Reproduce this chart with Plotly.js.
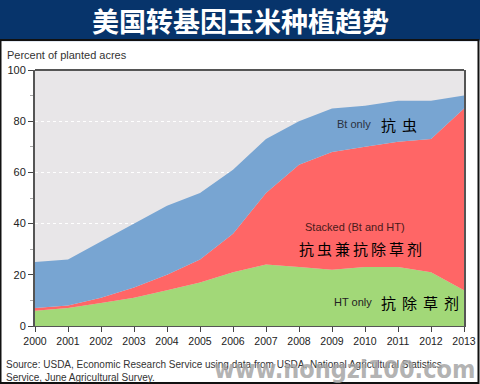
<!DOCTYPE html>
<html><head><meta charset="utf-8">
<script src="https://cdn.plot.ly/plotly-3.0.1.min.js"></script>
<style>html,body{margin:0;padding:0;background:#fff;}#chart{width:480px;height:384px;}</style>
</head><body><div id="chart"></div>
<script>
var years = [2000,2001,2002,2003,2004,2005,2006,2007,2008,2009,2010,2011,2012,2013];
var htOnly  = [6,7,9,11,14,17,21,24,23,22,23,23,21,14];
var stacked = [1,1,2,4,6,9,15,28,40,46,47,49,52,71];
var btOnly  = [18,18,22,25,27,26,25,21,17,17,16,16,15,5];
var yTicks = [0,20,40,60,80,100];
var title = "美国转基因玉米种植趋势";
var yTitle = "Percent of planted acres";
var source = "Source: USDA, Economic Research Service using data from USDA, National Agricultural Statistics<br>Service, June Agricultural Survey.";

var W = 480, H = 384, L = 35, R = 16, T = 70, B = 58;
var pw = W - L - R, ph = H - T - B;
function px(x){ return (x - L) / pw; }
function py(y){ return (H - B - y) / ph; }

function area(name, vals, color){
  return {type:'scatter', mode:'lines', x:years, y:vals, name:name, stackgroup:'one',
    line:{width:0, color:color}, fillcolor:color, hoverinfo:'skip'};
}
var data = [
  area('HT only', htOnly, '#a2d878'),
  area('Stacked (Bt and HT)', stacked, '#ff6666'),
  area('Bt only', btOnly, '#78a5d2')
];

var cjk = 'Noto Sans CJK SC, sans-serif';
var sep = '\u2009';
var layout = {
  width:W, height:H, margin:{l:L, r:R, t:T, b:B},
  paper_bgcolor:'#ffffff', plot_bgcolor:'#e8e6e8',
  showlegend:false,
  font:{family:'Liberation Sans, Arial, sans-serif', size:11, color:'#333'},
  xaxis:{range:[2000,2013], tickvals:years, ticks:'outside', ticklen:5, tickcolor:'#444',
    showgrid:false, zeroline:false, showline:true, linecolor:'#555', linewidth:1,
    tickfont:{size:10.5, color:'#222'}},
  yaxis:{range:[0,100], tickvals:yTicks, ticks:'outside', ticklen:5, tickcolor:'#444',
    showline:true, mirror:true, linecolor:'#555', linewidth:2, zeroline:false,
    gridcolor:'#ffffff', griddash:'dot', gridwidth:1,
    minor:{dtick:10, ticks:'outside', ticklen:3, tickcolor:'#aaa', showgrid:false},
    tickfont:{size:11, color:'#222'}},
  shapes:[
    {type:'rect', xref:'paper', yref:'paper', x0:px(0), x1:px(480), y0:py(40), y1:py(-2),
      fillcolor:'#07346b', line:{width:0}, layer:'above'},
    {type:'line', xref:'paper', yref:'paper', x0:px(0), x1:px(480), y0:py(40.5), y1:py(40.5),
      line:{color:'#8fa9cc', width:1.5}},
    {type:'line', xref:'paper', yref:'paper', x0:0, x1:1, y0:1, y1:1,
      line:{color:'#555', width:2}},
    {type:'rect', xref:'paper', yref:'paper', x0:px(0.5), x1:px(478.5), y0:py(383), y1:py(40),
      line:{color:'#111', width:2}, fillcolor:'rgba(0,0,0,0)'}
  ],
  annotations:[
    {xref:'paper', yref:'paper', x:px(240), y:py(20), text:title, showarrow:false,
      xanchor:'center', yanchor:'middle', font:{family:cjk, size:27, color:'#ffffff', weight:700}},
    {xref:'paper', yref:'paper', x:px(5), y:py(55), text:yTitle, showarrow:false,
      xanchor:'left', yanchor:'middle', font:{size:11, color:'#333'}},
    {xref:'paper', yref:'paper', x:px(4), y:py(370.5), text:source, showarrow:false,
      xanchor:'left', yanchor:'middle', align:'left', font:{size:10, color:'#333'}},
    {xref:'paper', yref:'paper', x:px(477), y:py(369), text:'www.nongzi100.com', showarrow:false,
      xanchor:'right', yanchor:'middle',
      font:{family:'Liberation Sans Narrow, DejaVu Sans Condensed, sans-serif', size:25, weight:700, color:'rgba(165,165,165,0.85)'}},
    {x:2010.24, y:78.8, text:'Bt only', showarrow:false, xanchor:'right', yanchor:'middle',
      font:{size:11, color:'#2a3140'}},
    {x:2010.42, y:78.8, text:['抗','虫'].join(sep+sep), showarrow:false, xanchor:'left', yanchor:'middle',
      font:{family:cjk, size:15, color:'#000'}},
    {x:2009.70, y:38.6, text:'Stacked (Bt and HT)', showarrow:false, xanchor:'center', yanchor:'middle',
      font:{size:11, color:'#4a1a1a'}},
    {x:2009.85, y:30.4, text:['抗','虫','兼','抗','除','草','剂'].join(sep), showarrow:false, xanchor:'center', yanchor:'middle',
      font:{family:cjk, size:15, color:'#000'}},
    {x:2010.27, y:9.3, text:'HT only', showarrow:false, xanchor:'right', yanchor:'middle',
      font:{size:11, color:'#222'}},
    {x:2010.42, y:9.3, text:['抗','除','草','剂'].join(sep+sep), showarrow:false, xanchor:'left', yanchor:'middle',
      font:{family:cjk, size:15, color:'#000'}}
  ]
};
Plotly.newPlot('chart', data, layout, {displayModeBar:false, staticPlot:true});
</script></body></html>
